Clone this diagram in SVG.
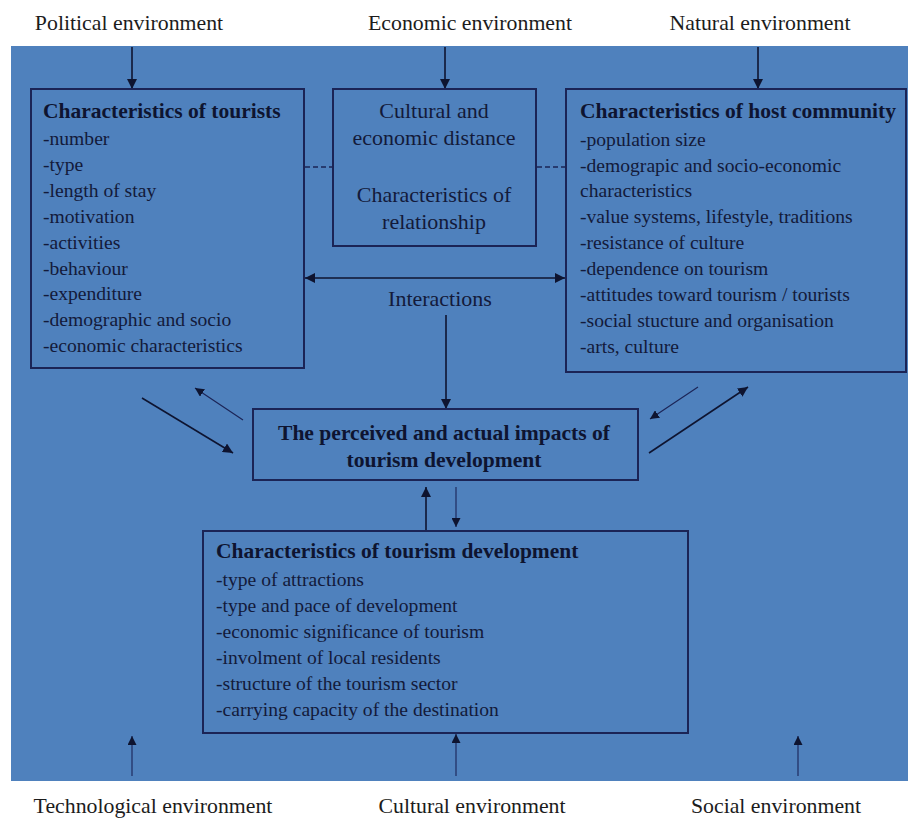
<svg xmlns="http://www.w3.org/2000/svg" width="908" height="819" viewBox="0 0 908 819">
  <defs>
    <marker id="head" viewBox="0 0 10 10" refX="10" refY="5" markerWidth="10" markerHeight="10" markerUnits="userSpaceOnUse" orient="auto-start-reverse">
      <path d="M0,0 L10,5 L0,10 Z" fill="#0e1430"/>
    </marker>
    <marker id="headS" viewBox="0 0 10 10" refX="10" refY="5" markerWidth="9" markerHeight="9" markerUnits="userSpaceOnUse" orient="auto-start-reverse">
      <path d="M0,0 L10,5 L0,10 Z" fill="#0e1430"/>
    </marker>
    <style>
      .env { font-family: "Liberation Serif", "Times New Roman", serif; font-size: 21.8px; fill: #1c1c1c; }
      .box { fill: none; stroke: #1b2456; stroke-width: 2; }
      .ttl { font-family: "Liberation Serif", "Times New Roman", serif; font-size: 21.5px; font-weight: bold; fill: #0e1430; }
      .itm { font-family: "Liberation Serif", "Times New Roman", serif; font-size: 19.6px; fill: #131a3a; }
      .mid { font-family: "Liberation Serif", "Times New Roman", serif; font-size: 22px; fill: #131a3a; text-anchor: middle; }
      .imp { font-family: "Liberation Serif", "Times New Roman", serif; font-size: 22px; font-weight: bold; fill: #0e1430; text-anchor: middle; }
      .ln { stroke: #0e1430; stroke-width: 1.6; fill: none; }
      .thin { stroke: #1b2456; stroke-width: 1.1; fill: none; }
      .dash { stroke: #1b2456; stroke-width: 1.4; stroke-dasharray: 5 3; fill: none; }
    </style>
  </defs>

  <rect x="0" y="0" width="908" height="819" fill="#ffffff"/>
  <!-- blue field -->
  <rect x="11" y="46" width="897" height="735" fill="#4f81bd"/>

  <!-- environment labels -->
  <g id="env-labels">
    <text class="env" x="129" y="30" text-anchor="middle">Political environment</text>
    <text class="env" x="470" y="30" text-anchor="middle">Economic environment</text>
    <text class="env" x="760" y="30" text-anchor="middle">Natural environment</text>
    <text class="env" x="153" y="813" text-anchor="middle">Technological environment</text>
    <text class="env" x="472" y="813" text-anchor="middle">Cultural environment</text>
    <text class="env" x="776" y="813" text-anchor="middle">Social environment</text>
  </g>

  <!-- connectors -->
  <g id="connectors">
    <line class="ln" x1="132" y1="47" x2="132" y2="89" marker-end="url(#head)"/>
    <line class="ln" x1="445" y1="47" x2="445" y2="89" marker-end="url(#head)"/>
    <line class="ln" x1="758" y1="47" x2="758" y2="89" marker-end="url(#head)"/>
    <line class="dash" x1="305" y1="167" x2="333" y2="167"/>
    <line class="dash" x1="537" y1="167" x2="566" y2="167"/>
    <line class="ln" x1="305" y1="278" x2="565" y2="278" marker-start="url(#head)" marker-end="url(#head)"/>
    <line class="ln" x1="446" y1="315" x2="446" y2="409" marker-end="url(#head)"/>
    <line class="ln" x1="142" y1="398" x2="233" y2="453" marker-end="url(#head)"/>
    <line class="thin" x1="243" y1="420" x2="195" y2="388" marker-end="url(#headS)"/>
    <line class="thin" x1="698" y1="387" x2="650" y2="419" marker-end="url(#headS)"/>
    <line class="ln" x1="649" y1="453" x2="748" y2="387" marker-end="url(#head)"/>
    <line class="ln" x1="426" y1="531" x2="426" y2="487" marker-end="url(#head)"/>
    <line class="thin" x1="456" y1="487" x2="456" y2="527" marker-end="url(#headS)"/>
    <line class="thin" x1="132" y1="776" x2="132" y2="736" marker-end="url(#headS)"/>
    <line class="thin" x1="456" y1="776" x2="456" y2="734" marker-end="url(#headS)"/>
    <line class="thin" x1="798" y1="776" x2="798" y2="736" marker-end="url(#headS)"/>
  </g>
  <text class="mid" x="440" y="306">Interactions</text>

  <!-- characteristics of tourists -->
  <g id="tourists">
    <rect class="box" x="31" y="89" width="273" height="279"/>
    <text class="ttl" x="43" y="118">Characteristics of tourists</text>
    <text class="itm" x="43" y="145">-number</text>
    <text class="itm" x="43" y="171">-type</text>
    <text class="itm" x="43" y="197">-length of stay</text>
    <text class="itm" x="43" y="223">-motivation</text>
    <text class="itm" x="43" y="249">-activities</text>
    <text class="itm" x="43" y="275">-behaviour</text>
    <text class="itm" x="43" y="300">-expenditure</text>
    <text class="itm" x="43" y="326">-demographic and socio</text>
    <text class="itm" x="43" y="352">-economic characteristics</text>
  </g>

  <!-- cultural and economic distance -->
  <g id="distance">
    <rect class="box" x="333" y="89" width="203" height="157"/>
    <text class="mid" x="434" y="118">Cultural and</text>
    <text class="mid" x="434" y="145">economic distance</text>
    <text class="mid" x="434" y="202">Characteristics of</text>
    <text class="mid" x="434" y="229">relationship</text>
  </g>

  <!-- characteristics of host community -->
  <g id="host">
    <rect class="box" x="566" y="89" width="340" height="283"/>
    <text class="ttl" x="580" y="118">Characteristics of host community</text>
    <text class="itm" x="580" y="146">-population size</text>
    <text class="itm" x="580" y="172">-demograpic and socio-economic</text>
    <text class="itm" x="580" y="197">characteristics</text>
    <text class="itm" x="580" y="223">-value systems, lifestyle, traditions</text>
    <text class="itm" x="580" y="249">-resistance of culture</text>
    <text class="itm" x="580" y="275">-dependence on tourism</text>
    <text class="itm" x="580" y="301">-attitudes toward tourism / tourists</text>
    <text class="itm" x="580" y="327">-social stucture and organisation</text>
    <text class="itm" x="580" y="353">-arts, culture</text>
  </g>

  <!-- perceived and actual impacts -->
  <g id="impacts">
    <rect class="box" x="253" y="409" width="385" height="71"/>
    <text class="imp" x="444" y="440" textLength="332" lengthAdjust="spacingAndGlyphs">The perceived and actual impacts of</text>
    <text class="imp" x="444" y="467" textLength="195" lengthAdjust="spacingAndGlyphs">tourism development</text>
  </g>

  <!-- characteristics of tourism development -->
  <g id="development">
    <rect class="box" x="203" y="531" width="485" height="202"/>
    <text class="ttl" x="216" y="558">Characteristics of tourism development</text>
    <text class="itm" x="216" y="586">-type of attractions</text>
    <text class="itm" x="216" y="612">-type and pace of development</text>
    <text class="itm" x="216" y="638">-economic significance of tourism</text>
    <text class="itm" x="216" y="664">-involment of local residents</text>
    <text class="itm" x="216" y="690">-structure of the tourism sector</text>
    <text class="itm" x="216" y="716">-carrying capacity of the destination</text>
  </g>
</svg>
